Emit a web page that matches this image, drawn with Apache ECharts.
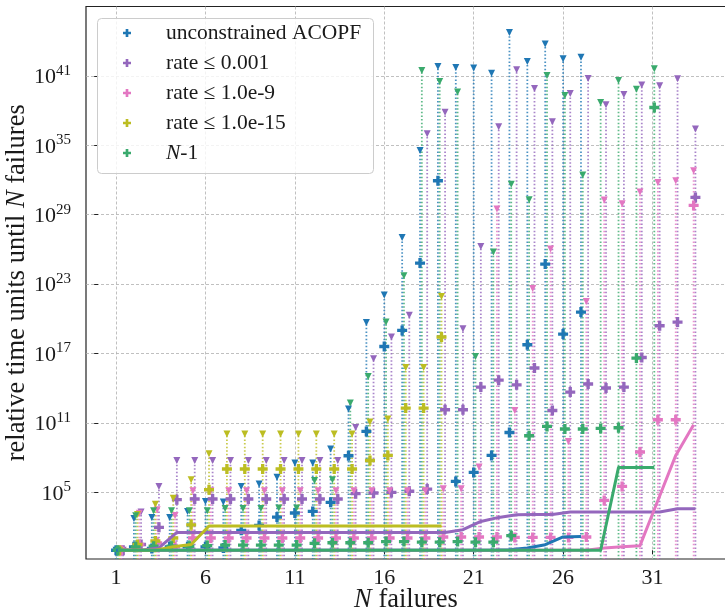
<!DOCTYPE html>
<html><head><meta charset="utf-8">
<script src="https://cdn.jsdelivr.net/npm/echarts@6/dist/echarts.min.js"></script>
<style>html,body{margin:0;padding:0;background:#fff}#c{width:725px;height:613px}</style>
</head><body><div id="c"></div>
<script>
// ---- data: log10 of relative time units, index 0 -> N = 1 ----
const seriesNames = ['unconstrained ACOPF', 'rate \u2264 0.001', 'rate \u2264 1.0e-9', 'rate \u2264 1.0e-15', 'N-1'];
const seriesColors = ['#1f77b4', '#9467bd', '#e377c2', '#bcbd22', '#3aaa6d'];
const xOffsets = [0, 0.4, 0.3, 0.2, 0.1];
const xTicks = [1, 6, 11, 16, 21, 26, 31];
const yTicksExp = [5, 11, 17, 23, 29, 35, 41];

const blueMean = [0,0.3,0.15,0.3,0.3,0.3,0.2,1.72,2.15,2.87,3.22,3.36,4.14,8.17,10.27,17.61,19.0,24.82,31.93,5.95,6.73,8.2,10.18,17.76,24.73,18.68,20.58];
const blueMax = [0,2.75,2.84,2.84,3.36,4.22,4.17,5.52,5.72,6.3,7.54,7.54,8.75,12.2,19.69,22.05,27.03,34.55,41.8,41.72,41.67,41.23,44.74,42.24,43.76,42.47,42.61];
const blueLine = [0,0,0,0,0,0,0,0,0,0,0,0,0,0,0,0,0,0,0,0,0,0,0.05,0.2,0.48,1.15,1.2];

const purpleMean = [0,0.5,1.98,4.37,4.43,4.43,4.43,4.43,4.43,4.43,4.43,4.43,4.43,4.89,4.95,5.0,5.1,5.29,12.14,12.14,14.1,14.7,14.3,15.75,12.08,13.67,14.37,14.02,14.1,16.66,19.4,19.72,30.49];
const purpleMax = [0,3.3,5.52,7.76,7.76,7.76,7.76,7.76,7.76,7.76,7.76,7.76,7.76,10.62,16.55,18.42,20.3,35.99,37.86,19.14,26.25,36.6,41.52,39.9,37.03,39.47,40.77,38.5,39.39,40.2,40.14,40.75,36.4];
const purpleLine = [0,0,0.2,1.54,1.54,1.54,1.54,1.54,1.54,1.54,1.54,1.54,1.54,1.54,1.54,1.54,1.54,1.54,1.54,1.78,2.49,2.84,3.07,3.1,3.1,3.31,3.31,3.31,3.31,3.31,3.31,3.59,3.59];

const pinkMean = [0,0.5,0.63,0.3,1.06,1.06,1.06,1.06,1.06,1.06,1.06,1.06,1.06,1.06,1.06,1.06,1.06,1.06,1.15,1.15,1.15,1.15,1.11,1.11,1.11,1.11,1.15,4.31,5.52,8.49,11.28,11.28,29.8];
const pinkMax = [0,3.2,3.5,3.0,5.15,5.15,5.15,5.15,5.15,5.15,5.15,5.15,5.15,5.15,5.15,5.15,5.15,5.15,5.32,5.32,7.2,29.5,12.08,22.62,26.03,9.41,21.5,30.27,29.94,30.95,31.78,31.93,32.79];
const pinkLine = [0,0,0,0,0,0,0,0,0,0,0,0,0,0,0,0,0,0,0,0,0,0,0,0,0,0,0,0.19,0.3,0.4,4.3,8.2,10.85];

const oliveMean = [0,0.5,0.8,1.06,2.2,5.23,7.02,7.02,7.02,7.02,7.02,7.02,7.02,7.02,7.76,8.2,12.29,12.29,18.43];
const oliveMax = [0,3.1,3.97,4.5,6.1,8.34,10.04,10.04,10.04,10.04,10.04,10.04,10.04,10.04,11.08,11.34,15.8,15.8,21.93];
const oliveLine = [0,0,0,0.3,0.5,2.1,2.1,2.1,2.1,2.1,2.1,2.1,2.1,2.1,2.1,2.1,2.1,2.1,2.1];

const greenMean = [0,0.3,0.35,0.35,0.35,0.4,0.45,0.45,0.45,0.45,0.45,0.6,0.65,0.65,0.65,0.75,0.75,0.7,0.7,0.75,0.7,0.7,1.26,9.9,10.7,10.48,10.48,10.53,10.59,16.61,38.26];
const greenMax = [0,2.99,3.42,3.42,3.42,3.42,3.6,3.6,3.6,3.65,3.65,6.04,6.1,12.72,15.02,19.72,23.72,41.46,40.5,39.6,16.75,25.77,31.64,30.29,41.03,39.3,32.42,38.7,40.6,39.85,41.6];
const greenLine = [0,0,0,0,0,0,0,0,0,0,0,0,0,0,0,0,0,0,0,0,0,0,0,0,0,0,0,0,7.16,7.16,7.16];

const allMean = [blueMean, purpleMean, pinkMean, oliveMean, greenMean];
const allMax = [blueMax, purpleMax, pinkMax, oliveMax, greenMax];
const allLine = [blueLine, purpleLine, pinkLine, oliveLine, greenLine];

const X_MIN = -0.68, X_MAX = 35.11, Y_MIN = -0.754, Y_MAX = 46.99;
const FONT = 'Liberation Serif';
const TXT = '#1a1a1a';
const plusPath = 'path://M1,0H2V1H3V2H2V3H1V2H0V1H1Z';

const pairs = (arr, off) => arr.map((v, i) => [i + 1 + off, v]);

const series = [];
seriesNames.forEach((name, k) => {
  const col = seriesColors[k], off = xOffsets[k];
  series.push({
    type: 'custom', name: name + ' range', clip: true, silent: true,
    data: pairs(allMax[k], off),
    renderItem: (params, api) => {
      const p1 = api.coord([api.value(0), Y_MIN - 1]);
      const p2 = api.coord([api.value(0), api.value(1)]);
      return { type: 'line', shape: { x1: p1[0], y1: p1[1], x2: p2[0], y2: p2[1] },
        style: { stroke: col, lineWidth: 1.8, lineDash: [1.5, 2.1], opacity: 0.8 } };
    }
  });
  series.push({
    type: 'scatter', name: name, symbol: plusPath, symbolSize: 10,
    itemStyle: { color: col, opacity: 1 }, data: pairs(allMean[k], off), silent: true
  });
  series.push({
    type: 'scatter', name: name + ' max', symbol: 'triangle', symbolRotate: 180, symbolSize: 7,
    itemStyle: { color: col, opacity: 1 }, data: pairs(allMax[k], off), silent: true
  });
  series.push({
    type: 'line', name: name + ' line', showSymbol: false, silent: true,
    lineStyle: { color: col, width: 3, join: 'round' }, itemStyle: { color: col },
    data: pairs(allLine[k], off)
  });
});

const chart = echarts.init(document.getElementById('c'), null, { renderer: 'canvas' });
chart.setOption({
  animation: false,
  backgroundColor: '#fff',
  grid: { left: 86, right: -1, top: 6.5, bottom: 54, outerBoundsMode: 'none', containLabel: false,
    show: true, borderColor: '#222', borderWidth: 1.2, backgroundColor: 'transparent' },
  xAxis: {
    type: 'value', min: X_MIN, max: X_MAX,
    axisLine: { show: false },
    axisTick: { show: true, customValues: xTicks, length: 4, lineStyle: { color: '#222', width: 1 } },
    axisLabel: { customValues: xTicks, margin: 8, fontFamily: FONT, fontSize: 22, color: TXT },
    splitLine: { show: true, lineStyle: { color: '#b0b0b0', type: [3, 2], width: 0.8 } },
    name: '{i|N} failures', nameLocation: 'middle', nameGap: 28, nameMoveOverlap: false,
    nameTextStyle: { fontFamily: FONT, fontSize: 26.5, color: TXT,
      rich: { i: { fontFamily: FONT, fontSize: 26.5, fontStyle: 'italic', color: TXT } } }
  },
  yAxis: {
    type: 'value', min: Y_MIN, max: Y_MAX,
    axisLine: { show: false },
    axisTick: { show: true, customValues: yTicksExp, length: 4, lineStyle: { color: '#222', width: 1 } },
    axisLabel: { customValues: yTicksExp, margin: 15,
      formatter: v => '{b|10}{s|' + v + '}',
      rich: {
        b: { fontFamily: FONT, fontSize: 22, color: TXT, verticalAlign: 'bottom' },
        s: { fontFamily: FONT, fontSize: 15, color: TXT, verticalAlign: 'bottom', padding: [0, 0, 10, 0] }
      } },
    splitLine: { show: true, lineStyle: { color: '#b0b0b0', type: [3, 2], width: 0.8 } },
    name: '{t|relative time units until }{i|N}{t| failures}', nameLocation: 'middle', nameGap: 55, nameMoveOverlap: false,
    nameTextStyle: { fontFamily: FONT, fontSize: 26.5, color: TXT,
      rich: { t: { fontFamily: FONT, fontSize: 26.5, color: TXT },
              i: { fontFamily: FONT, fontSize: 26.5, fontStyle: 'italic', color: TXT } } }
  },
  graphic: [{
    type: 'rect', left: 97, top: 18, z: 5,
    shape: { width: 276, height: 155, r: 4 },
    style: { fill: 'rgba(255,255,255,0.8)', stroke: '#cccccc', lineWidth: 1 }
  }],
  legend: {
    z: 6, left: 118, top: 16, orient: 'vertical',
    itemWidth: 68, itemHeight: 8, itemGap: 6, symbolKeepAspect: true,
    selectedMode: false,
    textStyle: { fontFamily: FONT, fontSize: 21.5, color: TXT, lineHeight: 24,
      rich: { i: { fontFamily: FONT, fontSize: 21.5, fontStyle: 'italic', color: TXT } } },
    formatter: n => n === 'N-1' ? '{i|N}-1' : n,
    data: seriesNames.map((n, k) => ({ name: n, icon: plusPath, itemStyle: { color: seriesColors[k] } }))
  },
  series: series
});
</script>
</body></html>
